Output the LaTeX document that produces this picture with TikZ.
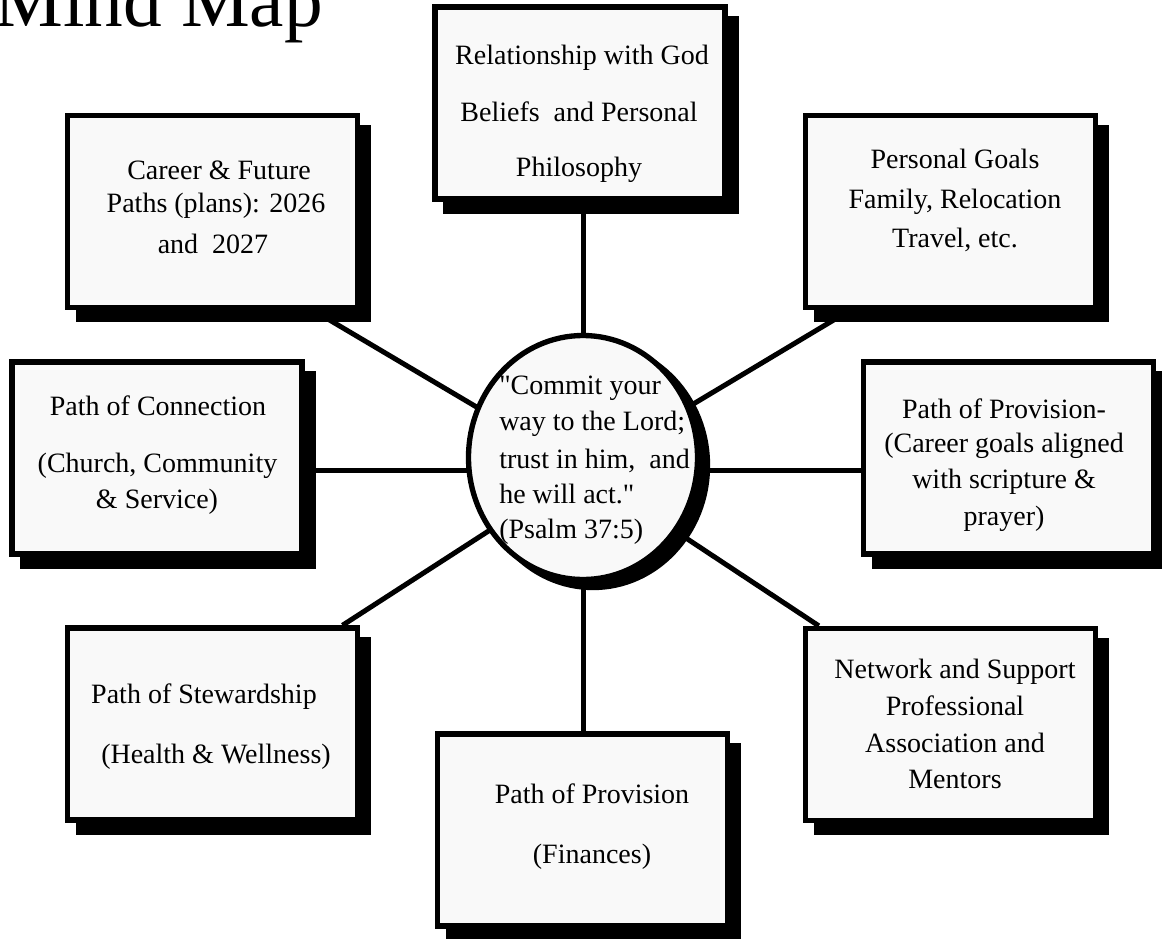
\documentclass[tikz,border=0pt]{standalone}
\usepackage{fontspec}
\setmainfont{Liberation Serif}[Ligatures=TeXOff]
\usetikzlibrary{shapes.geometric,shadows,backgrounds,calc}
\begin{document}
\begin{tikzpicture}[x=0.75pt,y=-0.75pt,
  box/.style={rectangle, draw=black, line width=4pt, fill=gray!5,
    minimum width=217.5pt, minimum height=144pt, inner sep=0pt,
    drop shadow={shadow xshift=8.25pt, shadow yshift=-9pt, opacity=1,
      fill=black, draw=black, line width=4pt}},
  hubshape/.style={ellipse, draw=black, line width=4pt, fill=gray!5,
    minimum width=171.75pt, minimum height=183pt, inner sep=0pt,
    drop shadow={shadow xshift=7.5pt, shadow yshift=-6pt, opacity=1,
      fill=black, draw=black, line width=4pt}},
  conn/.style={draw=black, line width=3.75pt},
  lbl/.style={anchor=base, inner sep=0pt, font=\fontsize{21}{25}\selectfont},
  lbll/.style={anchor=base west, inner sep=0pt, font=\fontsize{21}{25}\selectfont},
  titletext/.style={anchor=base west, inner sep=0pt, font=\fontsize{58}{62}\selectfont}]
\useasboundingbox (0,0) rectangle (1162,938);
\clip (0,0) rectangle (1162,938);

\node[titletext] (title) at (-6,27) {Mind Map};

% boxes
\node[box] (god)     at (580,103)   {};
\node[box] (career)  at (212.5,211.5) {};
\node[box] (goals)   at (950.5,211.5) {};
\node[box] (conn)    at (157,458)   {};
\node[box] (prov)    at (1008.5,458) {};
\node[box] (stew)    at (212.5,724) {};
\node[box] (net)     at (950.5,724.5) {};
\node[box] (fin)     at (582.5,830) {};
\node[hubshape] (c)  at (583,457.5) {};
\coordinate (hub) at (583,470);

% connectors
\begin{pgfonlayer}{background}
\draw[conn] (hub) -- (hub |- god.south);
\draw[conn] (hub) -- (hub |- fin.north);
\draw[conn] (hub) -- (hub -| conn.east);
\draw[conn] (hub) -- (hub -| prov.west);
\draw[conn] (hub) -- ($(career.south west)!0.84!(career.south east)$);
\draw[conn] (hub) -- ($(goals.south west)!0.16!(goals.south east)$);
\draw[conn] (hub) -- ($(stew.north west)!0.94!(stew.north east)$);
\draw[conn] (hub) -- ($(net.north west)!0.054!(net.north east)$);
\end{pgfonlayer}

% texts
\node[lbl] (g1) at (582,65)  {Relationship with God};
\node[lbl] (g2) at (579,122) {Beliefs\ \ and Personal};
\node[lbl] (g3) at (579,176) {Philosophy};

\node[lbl] (k1) at (219,179) {Career \& Future};
\node[lbl] (k2) at (216,212) {Paths (plans): 2026};
\node[lbl] (k3) at (213,253) {and\ \ 2027};

\node[lbl] (p1) at (955,168) {Personal Goals};
\node[lbl] (p2) at (955,208) {Family, Relocation};
\node[lbl] (p3) at (955,247) {Travel, etc.};

\node[lbl] (n1) at (158,415) {Path of Connection};
\node[lbl] (n2) at (157.5,472) {(Church, Community};
\node[lbl] (n3) at (157,508) {\& Service)};

\node[lbl] (v1) at (1004,418) {Path of Provision-};
\node[lbl] (v2) at (1004,452) {(Career goals aligned};
\node[lbl] (v3) at (1004,488) {with scripture \&};
\node[lbl] (v4) at (1004,525) {prayer)};

\node[lbl] (s1) at (204,703) {Path of Stewardship};
\node[lbl] (s2) at (216,763) {(Health \& Wellness)};

\node[lbl] (w1) at (955,678) {Network and Support};
\node[lbl] (w2) at (955,715) {Professional};
\node[lbl] (w3) at (955,752) {Association and};
\node[lbl] (w4) at (955,788) {Mentors};

\node[lbl] (f1) at (592,803) {Path of Provision};
\node[lbl] (f2) at (592,863) {(Finances)};

\node[lbll] (c1) at (499,394) {"Commit your};
\node[lbll] (c2) at (499,430) {way to the Lord;};
\node[lbll] (c3) at (499,468) {trust in him,\ \ and};
\node[lbll] (c4) at (499,503) {he will act."};
\node[lbll] (c5) at (499,538) {(Psalm 37:5)};
\end{tikzpicture}
\end{document}
